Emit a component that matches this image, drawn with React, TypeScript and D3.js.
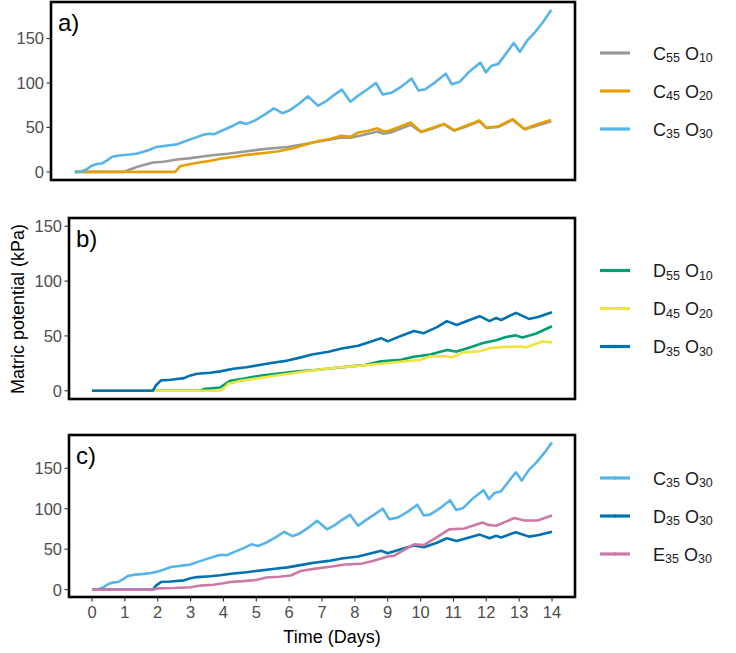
import { useEffect, useRef } from 'react';
import * as d3 from 'd3';

// [day, kPa]
const c55o10: [number, number][] = [
  [0, 0], [1.45, 0], [1.6, 2.5], [1.82, 5.5], [2.0, 7.5], [2.3, 10.5], [2.6, 11.5], [3.0, 14],
  [3.4, 15.5], [3.7, 17], [4.1, 19], [4.5, 20.5], [5.0, 23], [5.3, 24.5], [5.65, 26], [6.25, 28],
  [6.85, 32], [7.3, 35], [7.8, 38.5], [8.1, 38.5], [8.4, 41], [8.9, 45.5], [9.05, 43], [9.3, 44.5],
  [9.87, 53], [10.17, 45], [10.5, 48.5], [10.85, 53.5], [11.15, 46.5], [11.5, 51], [11.89, 57],
  [12.09, 49.5], [12.43, 50.5], [12.87, 58.5], [13.22, 48], [13.5, 51], [14, 57],
];
const c45o20: [number, number][] = [
  [0, 0], [2.95, 0], [3.1, 6.5], [3.3, 8], [3.65, 10.5], [4.0, 12.5], [4.3, 15], [4.7, 17],
  [5.06, 19.2], [5.5, 21], [5.94, 23], [6.2, 25], [6.44, 27], [6.83, 31.5], [7.2, 35], [7.5, 37],
  [7.81, 40.5], [8.1, 39.5], [8.3, 44], [8.6, 46], [8.89, 49], [9.05, 46], [9.19, 45.7], [9.5, 50],
  [9.87, 55.6], [10.17, 45.2], [10.5, 49.5], [10.85, 54], [11.15, 46.7], [11.5, 52], [11.89, 57.9],
  [12.09, 49.8], [12.43, 51], [12.87, 59.3], [13.22, 48], [13.41, 51], [13.7, 55], [14, 58.5],
];
const c35o30: [number, number][] = [
  [0, 0], [0.2, 0.5], [0.35, 3], [0.5, 7], [0.65, 9], [0.8, 9.5], [0.95, 13], [1.1, 17], [1.3, 18.5],
  [1.6, 19.5], [1.8, 20.5], [2.0, 22.5], [2.2, 25], [2.4, 28], [2.6, 29], [2.8, 30], [3.0, 31],
  [3.2, 34], [3.5, 38], [3.8, 42], [3.95, 43], [4.1, 42.5], [4.3, 46], [4.6, 51], [4.85, 56],
  [5.05, 54], [5.3, 58], [5.6, 65], [5.85, 71.5], [6.1, 66], [6.3, 69], [6.6, 77], [6.85, 85],
  [7.15, 74.5], [7.4, 80], [7.6, 86], [7.85, 92.5], [8.1, 79], [8.3, 85], [8.6, 93], [8.85, 100],
  [9.05, 87], [9.3, 89], [9.6, 96], [9.9, 105], [10.1, 91.5], [10.3, 93], [10.6, 101], [10.9, 110.5],
  [11.08, 98.5], [11.3, 101], [11.6, 113], [11.92, 123], [12.08, 112], [12.25, 119.5], [12.45, 121.5],
  [12.65, 132], [12.9, 145], [13.08, 135], [13.3, 148], [13.5, 156], [13.75, 168], [14, 182],
];
const d55o10: [number, number][] = [
  [0, 0], [3.3, 0], [3.4, 1.5], [3.9, 3], [4.05, 6], [4.2, 9], [4.6, 11], [5.1, 13.7], [5.6, 15.5],
  [6.2, 17.5], [6.8, 19], [7.3, 20.5], [7.8, 22], [8.3, 23.5], [8.8, 26.8], [9.4, 28.2], [9.8, 31],
  [10.3, 33], [10.8, 37.2], [11.1, 35.7], [11.5, 39.5], [11.9, 43.6], [12.3, 46], [12.6, 49],
  [12.9, 50.5], [13.1, 48.5], [13.5, 52], [14, 58.8],
];
const d45o20: [number, number][] = [
  [0, 0], [3.9, 0], [4.0, 2], [4.15, 6.5], [4.5, 9], [5.1, 11.6], [5.6, 14], [6.2, 16.5], [6.8, 19],
  [7.4, 21], [8.0, 22.5], [8.8, 24.7], [9.4, 26.5], [10.0, 28.2], [10.3, 31.4], [10.8, 31.5],
  [10.95, 30.5], [11.3, 35], [11.8, 36], [12.15, 39], [12.6, 40], [13.07, 40.4], [13.2, 39.5],
  [13.7, 45], [14, 44],
];
const d35o30: [number, number][] = [
  [0, 0], [1.85, 0], [1.95, 5], [2.1, 9.5], [2.4, 10], [2.8, 11.5], [3.0, 14], [3.2, 15.5], [3.6, 16.5],
  [3.9, 17.7], [4.3, 20], [4.7, 21.5], [5.1, 23.5], [5.5, 25.5], [5.95, 27.5], [6.3, 30], [6.7, 33],
  [7.2, 35.5], [7.6, 38.5], [8.1, 41], [8.5, 45], [8.8, 48], [9.0, 45], [9.4, 50], [9.8, 54.5],
  [10.1, 52.5], [10.5, 58], [10.8, 63.5], [11.1, 60], [11.45, 64], [11.8, 68], [12.1, 63.5],
  [12.3, 66.5], [12.45, 64.5], [12.9, 71], [13.3, 65.5], [13.6, 67.5], [14, 71.6],
];
const e35o30: [number, number][] = [
  [0, 0], [1.85, 0], [2.0, 1.5], [2.5, 2], [3.0, 3], [3.3, 5], [3.7, 6], [4.0, 8], [4.2, 9.5],
  [4.6, 10.5], [5.0, 12], [5.3, 15], [5.7, 16], [6.05, 17.5], [6.35, 23], [6.8, 26], [7.3, 28.5],
  [7.7, 31], [8.2, 32], [8.6, 36], [9.0, 41], [9.2, 42], [9.5, 49], [9.8, 56], [10.1, 55], [10.5, 65],
  [10.87, 74.5], [11.33, 75.5], [11.89, 83], [12.05, 80], [12.3, 79], [12.6, 84], [12.85, 88.5],
  [13.16, 85.5], [13.56, 85.5], [14, 91.5],
];

const yTicks = [0, 50, 100, 150];
const dayTicks = [0, 1, 2, 3, 4, 5, 6, 7, 8, 9, 10, 11, 12, 13, 14];

type Series = { letter: string; sub1: string; sub2: string; color: string; data: [number, number][] };

const panels = [
  {
    tag: 'a)', box: { l: 51, t: 2, r: 575, b: 180 }, yMax: null as number | null, dots: false, xAxis: false,
    series: [
      { letter: 'C', sub1: '55', sub2: '10', color: '#999999', data: c55o10 },
      { letter: 'C', sub1: '45', sub2: '20', color: '#E69F00', data: c45o20 },
      { letter: 'C', sub1: '35', sub2: '30', color: '#56B4E9', data: c35o30 },
    ] as Series[],
  },
  {
    tag: 'b)', box: { l: 69, t: 218, r: 575, b: 399 }, yMax: 150, dots: true, xAxis: false,
    series: [
      { letter: 'D', sub1: '55', sub2: '10', color: '#009E73', data: d55o10 },
      { letter: 'D', sub1: '45', sub2: '20', color: '#F0E442', data: d45o20 },
      { letter: 'D', sub1: '35', sub2: '30', color: '#0072B2', data: d35o30 },
    ] as Series[],
  },
  {
    tag: 'c)', box: { l: 69, t: 435, r: 575, b: 597 }, yMax: null, dots: true, xAxis: true,
    series: [
      { letter: 'C', sub1: '35', sub2: '30', color: '#56B4E9', data: c35o30 },
      { letter: 'D', sub1: '35', sub2: '30', color: '#0072B2', data: d35o30 },
      { letter: 'E', sub1: '35', sub2: '30', color: '#CC79A7', data: e35o30 },
    ] as Series[],
  },
];

const FONT = 'Liberation Sans, Arial, Helvetica, sans-serif';

export default function App() {
  const svgRef = useRef<SVGSVGElement>(null);

  useEffect(() => {
    const svg = d3.select(svgRef.current);
    svg.selectAll('*').remove();
    svg.attr('width', 736).attr('height', 653).style('font-family', FONT);

    panels.forEach((p) => {
      const { l, t, r, b } = p.box;
      const hi = p.yMax ?? d3.max(p.series.flatMap((s) => s.data.map((d) => d[1])))!;
      const x = d3.scaleLinear().domain([-0.7, 14.7]).range([l, r]);
      const y = d3.scaleLinear().domain([-0.05 * hi, hi * 1.05]).range([b, t]);
      const g = svg.append('g');

      // y ticks
      yTicks.forEach((v) => {
        g.append('line')
          .attr('x1', l - 4.5).attr('x2', l).attr('y1', y(v)).attr('y2', y(v))
          .attr('stroke', '#333333').attr('stroke-width', 1.1);
        g.append('text')
          .attr('x', l - 7).attr('y', y(v)).attr('dy', '0.36em')
          .attr('text-anchor', 'end').attr('font-size', 16.5).attr('fill', '#4D4D4D')
          .text(v);
      });

      if (p.xAxis) {
        dayTicks.forEach((v) => {
          g.append('line')
            .attr('x1', x(v)).attr('x2', x(v)).attr('y1', b).attr('y2', b + 4.5)
            .attr('stroke', '#333333').attr('stroke-width', 1.1);
          g.append('text')
            .attr('x', x(v)).attr('y', b + 21)
            .attr('text-anchor', 'middle').attr('font-size', 16.5).attr('fill', '#4D4D4D')
            .text(v);
        });
      }

      const line = d3.line<[number, number]>().x((d) => x(d[0])).y((d) => y(d[1]));
      p.series.forEach((s) => {
        g.append('path')
          .attr('d', line(s.data))
          .attr('fill', 'none').attr('stroke', s.color)
          .attr('stroke-width', 2.6).attr('stroke-linejoin', 'round');
      });

      g.append('rect')
        .attr('x', l).attr('y', t).attr('width', r - l).attr('height', b - t)
        .attr('fill', 'none').attr('stroke', '#000').attr('stroke-width', 2.6);

      g.append('text')
        .attr('x', l + 7).attr('y', t + 29).attr('font-size', 24).attr('fill', '#000')
        .text(p.tag);

      // legend
      const midY = (t + b) / 2;
      p.series.forEach((s, i) => {
        const ly = midY - 38 + i * 38;
        g.append('line')
          .attr('x1', 600).attr('x2', 630).attr('y1', ly).attr('y2', ly)
          .attr('stroke', s.color).attr('stroke-width', 3.2);
        if (p.dots) {
          g.append('circle').attr('cx', 615).attr('cy', ly).attr('r', 1.8).attr('fill', s.color);
        }
        const txt = g.append('text')
          .attr('x', 653).attr('y', ly + 6.5).attr('font-size', 18).attr('fill', '#1A1A1A');
        txt.append('tspan').text(s.letter);
        txt.append('tspan').attr('font-size', 12.5).attr('dy', 2.5).text(s.sub1);
        txt.append('tspan').attr('dy', -2.5).text(' O');
        txt.append('tspan').attr('font-size', 12.5).attr('dy', 2.5).text(s.sub2);
      });
    });

    svg.append('text')
      .attr('x', 332).attr('y', 643).attr('text-anchor', 'middle')
      .attr('font-size', 18).attr('fill', '#000')
      .text('Time (Days)');

    svg.append('text')
      .attr('transform', 'translate(24,309) rotate(-90)')
      .attr('text-anchor', 'middle').attr('font-size', 18).attr('fill', '#000')
      .text('Matric potential (kPa)');
  }, []);

  return (
    <div style={{ position: 'absolute', left: 0, top: 0 }}>
      <svg ref={svgRef}></svg>
    </div>
  );
}
